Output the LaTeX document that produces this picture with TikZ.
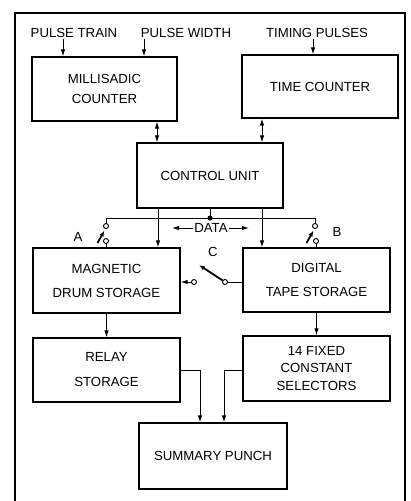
\documentclass[tikz,border=0pt]{standalone}
\usepackage{fontspec}
\setmainfont{Liberation Sans}
\usetikzlibrary{arrows.meta,calc}
\tikzset{
  blk/.style={draw,line width=1.2pt,align=center,inner sep=0pt,font=\fontsize{13.2}{20}\selectfont},
  lbl/.style={font=\fontsize{13.2}{16}\selectfont,inner sep=1pt},
  arr/.style={line width=1pt,-{Latex[length=7pt,width=4.5pt]}},
  darr/.style={line width=1pt,{Latex[length=7pt,width=4.5pt]}-{Latex[length=7pt,width=4.5pt]}},
  wire/.style={line width=1pt},
  term/.style={circle,draw,line width=0.9pt,fill=white,inner sep=0pt,minimum size=5pt},
  blade/.style={line width=1.8pt,-{Latex[length=6pt,width=4.5pt]}},
  frame/.style={line width=2.2pt},
}
\begin{document}
\begin{tikzpicture}[x=1pt,y=-1pt]
  \useasboundingbox (0,0) rectangle (411,501);
  \draw[frame] (15,501) -- (15,13) -- (405,13) -- (405,501);

  % blocks
  \node[blk,minimum width=145pt,minimum height=64pt] (mill) at (104.5,89) {MILLISADIC\\COUNTER};
  \node[blk,minimum width=156pt,minimum height=63pt] (time) at (320,86.5) {TIME COUNTER};
  \node[blk,minimum width=146pt,minimum height=65pt] (ctrl) at (210,175.5) {CONTROL UNIT};
  \node[blk,minimum width=147pt,minimum height=65pt,font=\fontsize{13.2}{24}\selectfont] (drum) at (106.5,280.5) {MAGNETIC\\DRUM STORAGE};
  \node[blk,minimum width=147pt,minimum height=64pt,font=\fontsize{13.2}{24}\selectfont] (tape) at (316.5,280) {DIGITAL\\TAPE STORAGE};
  \node[blk,minimum width=147pt,minimum height=64pt,font=\fontsize{13.2}{25}\selectfont] (relay) at (106.5,370) {RELAY\\STORAGE};
  \node[blk,minimum width=147pt,minimum height=65pt,font=\fontsize{13.2}{17.5}\selectfont] (fixed) at (316.5,368.5) {14 FIXED\\CONSTANT\\SELECTORS};
  \node[blk,minimum width=148pt,minimum height=66pt] (punch) at (213,456) {SUMMARY PUNCH};

  % inputs
  \node[lbl] (ptrain) at (74,33) {PULSE TRAIN};
  \node[lbl] (pwidth) at (186,33) {PULSE WIDTH};
  \node[lbl] (tpulse) at (317,33) {TIMING PULSES};
  \draw[arr] (ptrain.south -| 63,0) -- (mill.north -| 63,0);
  \draw[arr] (pwidth.south -| 144,0) -- (mill.north -| 144,0);
  \draw[arr] (tpulse.south -| 313,0) -- (time.north -| 313,0);

  % counters to control unit
  \draw[darr] (mill.south -| 157,0) -- (ctrl.north -| 157,0);
  \draw[darr] (time.south -| 262,0) -- (ctrl.north -| 262,0);
  \draw[arr] (ctrl.south -| 158,0) -- (drum.north -| 158,0);
  \draw[arr] (ctrl.south -| 262,0) -- (tape.north -| 262,0);

  % data bus and switches A, B
  \coordinate (busM) at (210,218);
  \node[term] (aTop) at (106,226) {};
  \node[term] (aBot) at (106,241) {};
  \node[term] (bTop) at (315,226) {};
  \node[term] (bBot) at (316,241) {};
  \draw[wire] (ctrl.south -| busM) -- (busM);
  \fill (busM) circle (2.5pt);
  \draw[wire] (aTop) -- (aTop |- busM) -- (bTop |- busM) -- (bTop);
  \draw[wire] (aBot) -- (aBot |- drum.north);
  \draw[wire] (bBot) -- (bBot |- tape.north);
  \coordinate (aFoot) at (97.5,243);
  \coordinate (aTip) at (104.5,230.5);
  \coordinate (bFoot) at (306.5,243);
  \coordinate (bTip) at (313.5,230.5);
  \draw[blade] (aFoot) -- (aTip);
  \draw[blade] (bFoot) -- (bTip);
  \node[lbl] (labA) at (78,237) {A};
  \node[lbl] (labB) at (337,232) {B};

  \node[lbl] (data) at (211,228) {DATA};
  \coordinate (dataL) at (172,228);
  \coordinate (dataR) at (249,228);
  \draw[arr] (data.west) -- (dataL);
  \draw[arr] (data.east) -- (dataR);

  % switch C
  \node[term] (cL) at (194,282) {};
  \node[term] (cR) at (225,282) {};
  \coordinate (cTip) at (199,265);
  \draw[arr] (cL) -- (cL -| drum.east);
  \draw[wire] (cR) -- (cR -| tape.west);
  \draw[blade] (cR) -- (cTip);
  \node[lbl] (labC) at (213,252) {C};

  % outputs
  \draw[arr] (drum.south) -- (relay.north);
  \draw[arr] (tape.south) -- (fixed.north);
  \draw[arr] (relay.east) -| (punch.north -| 200,0);
  \draw[arr] (fixed.west |- relay.east) -| (punch.north -| 224,0);
\end{tikzpicture}
\end{document}
